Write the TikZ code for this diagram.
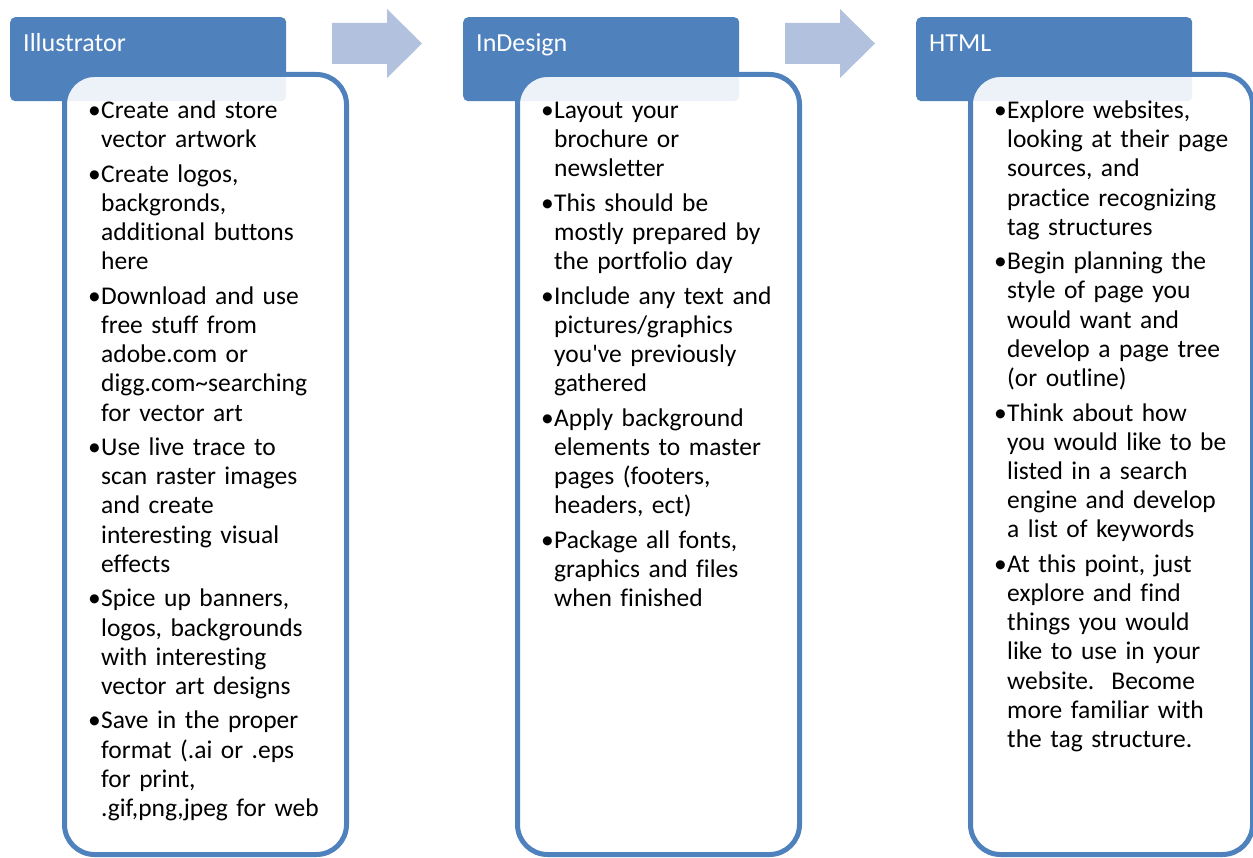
\documentclass[tikz,border=0pt]{standalone}
\usepackage{fontspec}
\setmainfont{Carlito}[Ligatures={NoCommon,TeXOff}]
\usepackage{xcolor}
\usepackage{tikz}
\usetikzlibrary{shapes,arrows,positioning}
\def\colsep{453}
\definecolor{hdrblue}{HTML}{4F81BD}
\definecolor{arrowblue}{HTML}{B1C1DE}
\newcommand{\bitem}[1]{\hangindent=13pt\hangafter=1\noindent\hbox to 13pt{\textbullet\hfil}#1\par}

\begin{document}
\begin{tikzpicture}[x=1pt,y=-1pt]
    \tikzstyle{header}=[rectangle,fill=hdrblue,rounded corners=5pt,minimum width=276pt,minimum height=84pt,anchor=north west,inner sep=0pt]
    \tikzstyle{hdrtext}=[anchor=base west,inner sep=0pt,text=white,font={\fontsize{26}{31}\selectfont}]
    \tikzstyle{body}=[rectangle,draw=hdrblue,line width=5pt,fill=white,fill opacity=0.9,rounded corners=30pt,minimum width=282pt,minimum height=780pt,anchor=north west]
    \tikzstyle{bodytext}=[anchor=base west,inner sep=0pt,text width=262pt,font={\fontsize{25.5}{29.2}\selectfont},execute at begin node={\setlength{\parskip}{5.3pt}}]
    \tikzstyle{flowarrow}=[fill=arrowblue]

    \useasboundingbox (0,0) rectangle (1253,858);

    % Draw the header boxes
    \foreach \name / \x / \word in {1/0/Illustrator,2/1/InDesign,3/2/HTML}
        \node[header] (H-\name) at (10+\x*\colsep,17) {};

    % Draw the body boxes on top of the headers
    \foreach \name / \x in {1/0,2/1,3/2}
        \node[body] (B-\name) at (62+\x*\colsep,72) {};

    % Header titles
    \foreach \name / \x / \word in {1/0/Illustrator,2/1/InDesign,3/2/HTML}
        \node[hdrtext] (L-\name) at (23+\x*\colsep,51.7) {\word};

    % Arrows between the steps
    \foreach \x in {0,1}
        \fill[flowarrow] (332+\x*\colsep,23) -- (387+\x*\colsep,23) -- (387+\x*\colsep,9)
            -- (422+\x*\colsep,43.5) -- (387+\x*\colsep,78) -- (387+\x*\colsep,64)
            -- (332+\x*\colsep,64) -- cycle;

    % Bullet lists
    \node[bodytext] (T-1) at (88,118.5) {%
        \bitem{Create and store\newline vector artwork}
        \bitem{Create logos,\newline backgronds,\newline additional buttons\newline here}
        \bitem{Download and use\newline free stuff from\newline adobe.com or\newline digg.com\textasciitilde searching\newline for vector art}
        \bitem{Use live trace to\newline scan raster images\newline and create\newline interesting visual\newline effects}
        \bitem{Spice up banners,\newline logos, backgrounds\newline with interesting\newline vector art designs}
        \bitem{Save in the proper\newline format (.ai or .eps\newline for print,\newline .gif,png,jpeg for web}};

    \node[bodytext] (T-2) at (88+\colsep,118.5) {%
        \bitem{Layout your\newline brochure or\newline newsletter}
        \bitem{This should be\newline mostly prepared by\newline the portfolio day}
        \bitem{Include any text and\newline pictures/graphics\newline you've previously\newline gathered}
        \bitem{Apply background\newline elements to master\newline pages (footers,\newline headers, ect)}
        \bitem{Package all fonts,\newline graphics and files\newline when finished}};

    \node[bodytext] (T-3) at (88+2*\colsep,118.5) {%
        \bitem{Explore websites,\newline looking at their page\newline sources, and\newline practice recognizing\newline tag structures}
        \bitem{Begin planning the\newline style of page you\newline would want and\newline develop a page tree\newline (or outline)}
        \bitem{Think about how\newline you would like to be\newline listed in a search\newline engine and develop\newline a list of keywords}
        \bitem{At this point, just\newline explore and find\newline things you would\newline like to use in your\newline website.\ \ Become\newline more familiar with\newline the tag structure.}};

\end{tikzpicture}
\end{document}
